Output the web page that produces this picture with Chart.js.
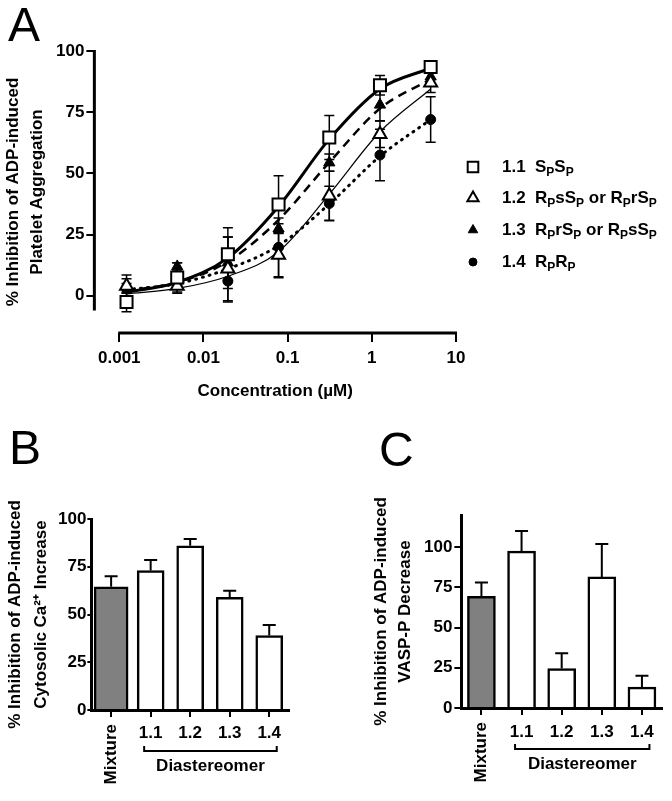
<!DOCTYPE html>
<html>
<head>
<meta charset="utf-8">
<script src="https://cdn.jsdelivr.net/npm/chart.js@4.4.1/dist/chart.umd.min.js"></script>
<style>
  body { margin: 0; background: #fff; width: 672px; height: 801px; position: relative; overflow: hidden;
         font-family: "Liberation Sans", Arial, sans-serif; color: #000; }
  canvas { position: absolute; }
  #chartA { left: 0; top: 0; }
  #chartB { left: 0; top: 400px; }
  #chartC { left: 335px; top: 400px; }
  .letter { position: absolute; font-size: 48px; line-height: 48px; }
  .leg { position: absolute; left: 502px; font-weight: bold; font-size: 17px; line-height: 20px; white-space: nowrap; }
  .leg .n { display: inline-block; width: 33px; }
  .leg sub { font-size: 12px; vertical-align: -4px; line-height: 0; }
</style>
</head>
<body>
<canvas id="chartA" width="672" height="402"></canvas>
<canvas id="chartB" width="310" height="401"></canvas>
<canvas id="chartC" width="337" height="401"></canvas>

<div class="letter" style="left:8px;top:1px">A</div>
<div class="letter" style="left:9px;top:424px">B</div>
<div class="letter" style="left:379px;top:426px">C</div>
<div id="legend"></div>

<script>
// ---- panel A: concentration-response ----
const conc = [0.00122, 0.00488, 0.0195, 0.078, 0.3125, 1.25, 5];
const seriesIds = ['1.1', '1.2', '1.3', '1.4'];
const seriesNames = [
  'S<sub>P</sub>S<sub>P</sub>',
  'R<sub>P</sub>sS<sub>P</sub> or R<sub>P</sub>rS<sub>P</sub>',
  'R<sub>P</sub>rS<sub>P</sub> or R<sub>P</sub>sS<sub>P</sub>',
  'R<sub>P</sub>R<sub>P</sub>'
];
// means, SEM and fitted-curve values
const mean11 = [-2.5, 7.5, 17, 37.3, 64.7, 86, 93.5];
const sem11  = [4, 6, 10.8, 11.7, 9, 4, 2];
const fit11  = [1.5, 5.5, 15.5, 36.5, 64, 84.5, 93];
const mean12 = [4, 4, 11, 16.7, 40.9, 66, 87];
const sem12  = [4.5, 3, 13, 9.3, 10, 5.4, 4];
const fit12  = [0.8, 3, 8, 18, 41.5, 67, 84.5];
const mean13 = [4, 12, 13.5, 27.4, 54.4, 78, 89.5];
const sem13  = [3, 1.5, 10.5, 2, 3.5, 6.5, 3];
const fit13  = [2, 5.5, 14, 31, 54.5, 76.5, 88.5];
const mean14 = [3, 5, 6, 19.8, 37.7, 57.5, 72];
const sem14  = [2, 2, 8.5, 12, 7, 10.5, 9.3];
const fit14  = [2.5, 5, 11, 20.5, 37.5, 57, 72];

const xTicksA = [0.001, 0.01, 0.1, 1, 10];
const xTickLabelsA = ['0.001', '0.01', '0.1', '1', '10'];
const yTicks = [0, 25, 50, 75, 100];

// ---- panels B and C: bars ----
const barCats = ['Mixture', '1.1', '1.2', '1.3', '1.4'];
const caMean = [64.5, 73, 86, 59, 39];
const caSem  = [5.5, 5.5, 3.5, 3.5, 5.5];
const vaspMean = [69.5, 97.5, 24.5, 81.5, 13];
const vaspSem  = [8.5, 12.5, 9.5, 20.5, 7];

Chart.defaults.font.family = '"Liberation Sans", Arial, sans-serif';
Chart.defaults.color = '#000';

const BOLD17 = { size: 17, weight: 'bold' };
const pts = (ys) => conc.map((c, i) => ({ x: c, y: ys[i] }));

// legend text (HTML so the subscripts stay real text)
const legendRows = [167, 198, 230, 262];
document.getElementById('legend').innerHTML = seriesIds.map((id, i) =>
  `<div class="leg" style="top:${legendRows[i] - 10}px"><span class="n">${id}</span>${seriesNames[i]}</div>`
).join('');

const errorBarsA = {
  id: 'errorBarsA',
  beforeDatasetsDraw(chart) {
    const { ctx, scales: { x, y } } = chart;
    ctx.save();
    ctx.strokeStyle = '#000';
    ctx.lineWidth = 1.5;
    chart.data.datasets.forEach(ds => {
      if (!ds.err) return;
      ds.data.forEach((p, i) => {
        const px = x.getPixelForValue(p.x);
        const top = y.getPixelForValue(p.y + ds.err[i]);
        const bot = y.getPixelForValue(p.y - ds.err[i]);
        ctx.beginPath();
        ctx.moveTo(px, top); ctx.lineTo(px, bot);
        ctx.moveTo(px - 5, top); ctx.lineTo(px + 5, top);
        ctx.moveTo(px - 5, bot); ctx.lineTo(px + 5, bot);
        ctx.stroke();
      });
    });
    ctx.restore();
  }
};

// detached axis lines (GraphPad style) + legend markers
const axesA = {
  id: 'axesA',
  afterDraw(chart) {
    const { ctx, chartArea, scales: { x, y } } = chart;
    ctx.save();
    ctx.strokeStyle = '#000';
    ctx.lineWidth = 3;
    ctx.beginPath();
    ctx.moveTo(chartArea.left, y.getPixelForValue(100) - 1);
    ctx.lineTo(chartArea.left, y.getPixelForValue(-6));
    ctx.moveTo(x.getPixelForValue(xTicksA[0]) - 1, chartArea.bottom);
    ctx.lineTo(x.getPixelForValue(xTicksA[xTicksA.length - 1]) + 1, chartArea.bottom);
    ctx.stroke();

    chart.data.datasets.slice(0, 4).forEach((ds, i) => {
      ctx.fillStyle = ds.pointBackgroundColor;
      ctx.strokeStyle = '#000';
      ctx.lineWidth = ds.pointBorderWidth;
      Chart.helpers.drawPoint(ctx, {
        pointStyle: ds.pointStyle, radius: ds.pointRadius - 1,
        borderWidth: ds.pointBorderWidth, rotation: 0
      }, 473, legendRows[i]);
    });
    ctx.restore();
  }
};

const markerSet = (ys, err, style, r, fill) => ({
  data: pts(ys), err,
  pointStyle: style, pointRadius: r, pointHoverRadius: r,
  pointBackgroundColor: fill, pointBorderColor: '#000', pointBorderWidth: fill === '#fff' ? 2 : 1,
  showLine: false
});
const curveSet = (ys, width, dash) => ({
  data: pts(ys), showLine: true, pointRadius: 0,
  borderColor: '#000', borderWidth: width, borderDash: dash,
  borderCapStyle: dash.length && dash[0] < 2 ? 'round' : 'butt',
  cubicInterpolationMode: 'monotone'
});

new Chart(document.getElementById('chartA'), {
  type: 'scatter',
  data: {
    datasets: [
      markerSet(mean11, sem11, 'rect', 8.5, '#fff'),
      markerSet(mean12, sem12, 'triangle', 7.5, '#fff'),
      markerSet(mean13, sem13, 'triangle', 6.5, '#000'),
      markerSet(mean14, sem14, 'circle', 5, '#000'),
      curveSet(fit11, 3, []),
      curveSet(fit12, 1.2, []),
      curveSet(fit13, 2.5, [9, 6]),
      curveSet(fit14, 3, [1, 6])
    ]
  },
  options: {
    responsive: false,
    animation: false,
    devicePixelRatio: 1,
    clip: false,
    layout: { padding: { left: 1, top: 51, right: 216, bottom: 0.2 } },
    plugins: { legend: { display: false }, tooltip: { enabled: false } },
    scales: {
      x: {
        type: 'logarithmic',
        min: 0.000506, max: 10,
        afterBuildTicks: s => { s.ticks = xTicksA.map(v => ({ value: v })); },
        ticks: { font: BOLD17, padding: 6, callback: (v, i) => xTickLabelsA[i] },
        grid: { display: true, drawOnChartArea: false, tickLength: 9, color: '#000', lineWidth: 2 },
        border: { display: false },
        title: { display: true, text: 'Concentration (µM)', font: BOLD17, padding: { top: 7, bottom: 0 } }
      },
      y: {
        min: -15.2, max: 100,
        afterBuildTicks: s => { s.ticks = yTicks.map(v => ({ value: v })); },
        ticks: { font: BOLD17, padding: 2 },
        grid: { display: true, drawOnChartArea: false, tickLength: 8, color: '#000', lineWidth: 2 },
        border: { display: false },
        title: {
          display: true,
          text: ['% Inhibition of ADP-induced', 'Platelet Aggregation'],
          font: { size: 17, weight: 'bold', lineHeight: 24 / 17 },
          padding: { top: 0, bottom: 5 }
        }
      }
    }
  },
  plugins: [errorBarsA, axesA]
});

// upper-only error bars, rotated "Mixture" label and Diastereomer bracket
const barExtras = {
  id: 'barExtras',
  afterDatasetsDraw(chart) {
    const { ctx, scales: { x, y } } = chart;
    const sem = chart.options.sem;
    ctx.save();
    ctx.strokeStyle = '#000';
    ctx.lineWidth = 2;
    chart.options.mean.forEach((m, i) => {
      const px = x.getPixelForValue(i);
      const top = y.getPixelForValue(m + sem[i]);
      ctx.beginPath();
      ctx.moveTo(px, y.getPixelForValue(m)); ctx.lineTo(px, top);
      ctx.moveTo(px - 6.5, top); ctx.lineTo(px + 6.5, top);
      ctx.stroke();
    });
    ctx.restore();
  },
  afterDraw(chart) {
    const { ctx, chartArea, scales: { x } } = chart;
    const base = chartArea.bottom;
    ctx.save();
    ctx.fillStyle = '#000';
    ctx.strokeStyle = '#000';
    ctx.font = 'bold 17px "Liberation Sans", Arial, sans-serif';
    ctx.translate(x.getPixelForValue(0), base + 14);
    ctx.rotate(-Math.PI / 2);
    ctx.textAlign = 'right';
    ctx.textBaseline = 'middle';
    ctx.fillText(barCats[0], 0, 0);
    ctx.restore();

    const x1 = x.getPixelForValue(1) - 6.5;
    const x2 = x.getPixelForValue(4) + 7.5;
    ctx.save();
    ctx.strokeStyle = '#000';
    ctx.lineWidth = 2;
    ctx.beginPath();
    ctx.moveTo(x1, base + 36); ctx.lineTo(x1, base + 41);
    ctx.lineTo(x2, base + 41); ctx.lineTo(x2, base + 36);
    ctx.stroke();
    ctx.fillStyle = '#000';
    ctx.font = 'bold 17px "Liberation Sans", Arial, sans-serif';
    ctx.textAlign = 'center';
    ctx.textBaseline = 'middle';
    ctx.fillText('Diastereomer', (x1 + x2) / 2, base + 56);
    ctx.restore();
  }
};

function barChart(id, mean, sem, cfg) {
  return new Chart(document.getElementById(id), {
    type: 'bar',
    data: {
      labels: barCats,
      datasets: [
        {
          data: mean.map((v, i) => (i === 0 ? v : null)),
          backgroundColor: '#808080', borderColor: '#000', borderWidth: 2.5,
          barThickness: cfg.mixWidth, grouped: false
        },
        {
          data: mean.map((v, i) => (i === 0 ? null : v)),
          backgroundColor: '#fff', borderColor: '#000', borderWidth: 2.5,
          barThickness: cfg.barWidth, grouped: false
        }
      ]
    },
    options: {
      responsive: false,
      animation: false,
      devicePixelRatio: 1,
      mean, sem,
      layout: { padding: cfg.padding },
      plugins: { legend: { display: false }, tooltip: { enabled: false } },
      scales: {
        x: {
          offset: true,
          ticks: { font: BOLD17, padding: cfg.xPad, maxRotation: 0, autoSkip: false,
                   callback: (v, i) => (i === 0 ? '' : barCats[i]) },
          grid: { display: true, offset: false, drawOnChartArea: false, tickLength: 7, color: '#000', lineWidth: 2 },
          border: { display: true, color: '#000', width: 3 }
        },
        y: {
          min: 0, max: cfg.yMax,
          afterBuildTicks: s => { s.ticks = yTicks.map(v => ({ value: v })); },
          ticks: { font: BOLD17, padding: cfg.yPad },
          grid: { display: true, drawOnChartArea: false, tickLength: cfg.tickLen, color: '#000', lineWidth: 2 },
          border: { display: true, color: '#000', width: 3 },
          title: {
            display: true, text: cfg.title,
            font: { size: 17, weight: 'bold', lineHeight: cfg.titleLH / 17 },
            padding: { top: 0, bottom: cfg.titlePad }
          }
        }
      }
    },
    plugins: [barExtras]
  });
}

barChart('chartB', caMean, caSem, {
  yMax: 100, mixWidth: 34, barWidth: 27,
  title: ['% Inhibition of ADP-induced', 'Cytosolic Ca²⁺ Increase'],
  titleLH: 26, titlePad: 3, yPad: 1, tickLen: 4, xPad: 6,
  padding: { left: 2, top: 119, right: 21, bottom: 51.6 }
});

barChart('chartC', vaspMean, vaspSem, {
  yMax: 120, mixWidth: 28, barWidth: 28,
  title: ['% Inhibition of ADP-induced', 'VASP-P Decrease'],
  titleLH: 24, titlePad: 5, yPad: 2, tickLen: 7, xPad: 7,
  padding: { left: 34, top: 115, right: 10, bottom: 51.6 }
});
</script>
</body>
</html>
